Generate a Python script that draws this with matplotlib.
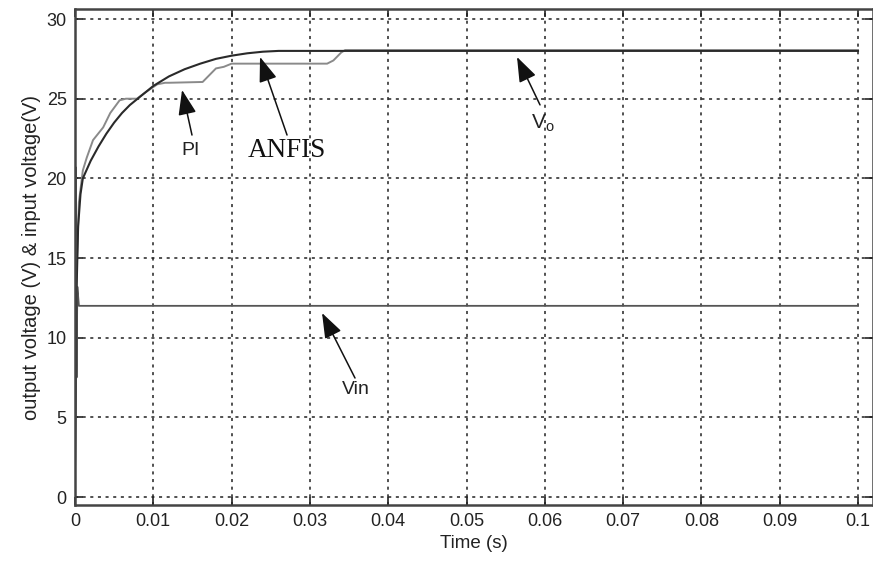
import matplotlib
matplotlib.use("Agg")
import matplotlib.pyplot as plt

# ---- data ----
t_anfis = [0, 0.0002, 0.0004, 0.0007, 0.001, 0.002, 0.003, 0.004, 0.005, 0.006,
           0.007, 0.008, 0.009, 0.010, 0.012, 0.014, 0.016, 0.018, 0.020, 0.022,
           0.024, 0.026, 0.030, 0.1]
v_anfis = [2, 13, 17, 19, 20.0, 21.1, 22.0, 22.8, 23.5, 24.1,
           24.6, 25.0, 25.4, 25.8, 26.4, 26.85, 27.2, 27.5, 27.7, 27.85,
           27.95, 28.0, 28.0, 28.0]

t_pi = [0, 0.0002, 0.0005, 0.001, 0.0015, 0.0023, 0.0036, 0.0045, 0.0057, 0.0065,
        0.0079, 0.009, 0.0105, 0.0115, 0.012, 0.0163, 0.0172, 0.018, 0.019, 0.020,
        0.0322, 0.0330, 0.0340, 0.0345, 0.1]
v_pi = [2, 14, 18.5, 20.5, 21.3, 22.4, 23.2, 24.1, 24.9, 25.0,
        25.0, 25.4, 25.9, 26.0, 26.0, 26.05, 26.5, 26.9, 27.0, 27.2,
        27.2, 27.4, 27.9, 28.05, 28.05]

t_vin = [0, 0.0001, 0.0002, 0.0003, 0.0005, 0.1]
v_vin = [2, 20.7, 7.5, 13.2, 12, 12]

x_ticks = [0, 0.01, 0.02, 0.03, 0.04, 0.05, 0.06, 0.07, 0.08, 0.09, 0.1]
x_ticklabels = ["0", "0.01", "0.02", "0.03", "0.04", "0.05", "0.06", "0.07", "0.08", "0.09", "0.1"]
y_ticks = [0, 5, 10, 15, 20, 25, 30]

plt.rcParams['font.family'] = ['Liberation Sans', 'DejaVu Sans']

fig = plt.figure(figsize=(8.73, 5.66), dpi=100)
ax = fig.add_axes([75/873, 1-505/566, 1-75/873, (505-9)/566])

ax.plot(t_vin, v_vin, color='#555555', lw=1.3)
ax.plot(t_pi, v_pi, color='#8a8a8a', lw=1.4)
ax.plot(t_anfis, v_anfis, color='#2a2a2a', lw=1.5)

ax.set_xlim(0, (873-75)/7830)
ax.set_ylim(-0.5, 30.63)
ax.set_xticks(x_ticks)
ax.set_xticklabels(x_ticklabels)
ax.set_yticks(y_ticks)
ax.tick_params(direction='in', length=6, width=1.2, top=True, right=True,
               labelsize=13, colors='#222222', pad=6)
ax.grid(True, color='#222222', linestyle=(0, (2, 3)), linewidth=1.1)
for s in ax.spines.values():
    s.set_linewidth(1.8)
    s.set_color('#444444')

ax.set_xlabel("Time (s)", fontsize=13.5, color='#222222', labelpad=3)
ax.set_ylabel("output voltage (V) & input voltage(V)", fontsize=14.5, color='#222222', labelpad=4)

arrow = dict(arrowstyle='-|>,head_length=1.1,head_width=0.4', color='#111111',
             lw=1.1, shrinkA=0, shrinkB=0, mutation_scale=14)

ax.annotate("", xy=(0.01367, 25.55), xytext=(0.01494, 22.72), arrowprops=arrow)
ax.text(0.01481, 21.72, "PI", fontsize=14, ha='center', va='center', color='#222222')

ax.annotate("", xy=(0.02363, 27.62), xytext=(0.02708, 22.72), arrowprops=arrow)
ax.text(0.02708, 21.72, "ANFIS", fontsize=19.5, ha='center', va='center', color='#111111',
        family=['Liberation Serif', 'DejaVu Serif'])

ax.annotate("", xy=(0.05645, 27.62), xytext=(0.05939, 24.61), arrowprops=arrow)
ax.text(0.05977, 23.48, r"V$_\mathregular{o}$", fontsize=15, ha='center', va='center', color='#222222')

ax.annotate("", xy=(0.03155, 11.55), xytext=(0.03576, 7.47), arrowprops=arrow)
ax.text(0.03589, 6.78, "Vin", fontsize=14, ha='center', va='center', color='#222222')

fig.savefig("out.png", dpi=100)
